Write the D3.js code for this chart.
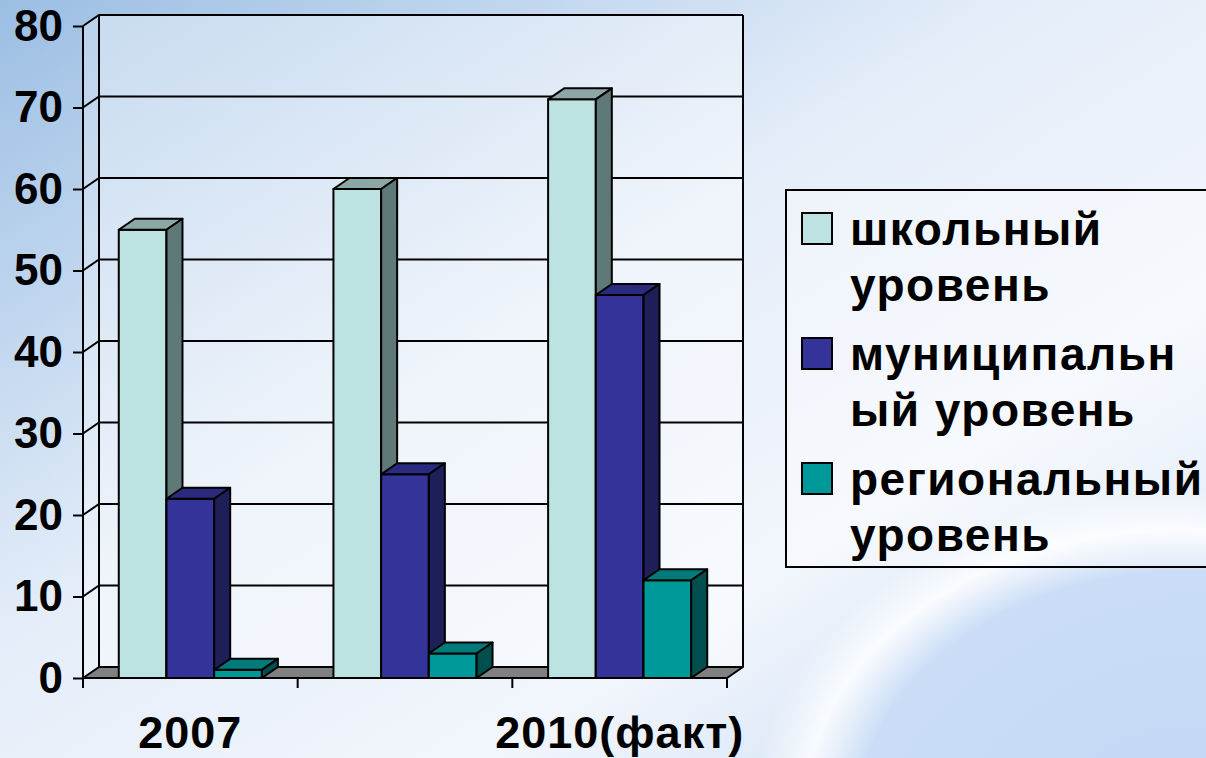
<!DOCTYPE html>
<html>
<head>
<meta charset="utf-8">
<script src="https://cdn.jsdelivr.net/npm/d3@7"></script>
<style>
  html, body { margin: 0; padding: 0; overflow: hidden; }
  #chart { width: 1206px; height: 758px; }
</style>
</head>
<body>
<div id="chart"></div>
<script>
// data
var categories = ["2007", "", "2010(факт)"];
var seriesNames = ["школьный уровень", "муниципальный уровень", "региональный уровень"];
var legendLines = [["школьный", "уровень"], ["муниципальн", "ый уровень"], ["региональный", "уровень"]];
var schoolValues = [55, 60, 71];
var municipalValues = [22, 25, 47];
var regionalValues = [1, 3, 12];
var yTicks = [0, 10, 20, 30, 40, 50, 60, 70, 80];

var seriesValues = [schoolValues, municipalValues, regionalValues];

// colours: front, top, side
var faceColors = [
  ["#BDE2E2", "#8CA8A6", "#5E7977"],
  ["#333399", "#2A2A7E", "#1E1E58"],
  ["#009999", "#007A7A", "#004F4F"]
];

const width = 1206, height = 758;
const depthX = 16, depthY = -11;   // 3d offset front -> back
const fontFam = "'Liberation Sans', Arial, sans-serif";

const svg = d3.select("#chart")
  .append("svg")
  .attr("width", width)
  .attr("height", height);

// background
const defs = svg.append("defs");
const bg = defs.append("linearGradient").attr("id", "bg")
  .attr("x1", "0").attr("y1", "0").attr("x2", "1").attr("y2", "1");
bg.append("stop").attr("offset", "0").attr("stop-color", "#9BBEE3");
bg.append("stop").attr("offset", "0.42").attr("stop-color", "#E4EDF9");
bg.append("stop").attr("offset", "0.7").attr("stop-color", "#F2F6FC");
bg.append("stop").attr("offset", "1").attr("stop-color", "#C2D8F4");

const glow = defs.append("radialGradient").attr("id", "glow")
  .attr("cx", "0.5").attr("cy", "0.5").attr("r", "0.5");
glow.append("stop").attr("offset", "0").attr("stop-color", "#C3D8F5").attr("stop-opacity", 1);
glow.append("stop").attr("offset", "0.75").attr("stop-color", "#C9DCF6").attr("stop-opacity", 0.9);
glow.append("stop").attr("offset", "0.88").attr("stop-color", "#FFFFFF").attr("stop-opacity", 0.8);
glow.append("stop").attr("offset", "1").attr("stop-color", "#FFFFFF").attr("stop-opacity", 0);

svg.append("rect").attr("width", width).attr("height", height).attr("fill", "url(#bg)");
svg.append("ellipse")
  .attr("cx", 1180).attr("cy", 820).attr("rx", 430).attr("ry", 330)
  .attr("fill", "url(#glow)");

// scales
const y = d3.scaleLinear().domain([0, 80]).range([678, 26]);
const x = d3.scaleBand().domain(categories).range([83, 727]).paddingInner(0).paddingOuter(0);
const xs = d3.scaleBand().domain(seriesNames).range([0, x.bandwidth()])
  .paddingInner(0).paddingOuter(0.75);

const x0 = x.range()[0], x1 = x.range()[1];
const y0 = y(0), yTop = y(80);

function pts(arr) { return arr.map(function (p) { return p.join(","); }).join(" "); }

// walls
svg.append("polygon")
  .attr("points", pts([[x0 + depthX, yTop + depthY], [x1 + depthX, yTop + depthY], [x1 + depthX, y0 + depthY], [x0 + depthX, y0 + depthY]]))
  .attr("fill", "#FFFFFF").attr("fill-opacity", 0.4);
svg.append("polygon")
  .attr("points", pts([[x0, yTop], [x0 + depthX, yTop + depthY], [x0 + depthX, y0 + depthY], [x0, y0]]))
  .attr("fill", "#FFFFFF").attr("fill-opacity", 0.25);

// gridlines
const grid = svg.append("g").attr("stroke", "#000").attr("stroke-width", 2).attr("fill", "none");
yTicks.forEach(function (t) {
  if (t === 0) return;
  grid.append("polyline")
    .attr("points", pts([[x0, y(t)], [x0 + depthX, y(t) + depthY], [x1 + depthX, y(t) + depthY]]));
});
// wall edges
grid.append("line")
  .attr("x1", x0 + depthX).attr("y1", yTop + depthY)
  .attr("x2", x0 + depthX).attr("y2", y0 + depthY);
grid.append("line")
  .attr("x1", x1 + depthX).attr("y1", yTop + depthY)
  .attr("x2", x1 + depthX).attr("y2", y0 + depthY);

// floor
svg.append("polygon")
  .attr("points", pts([[x0, y0], [x0 + depthX, y0 + depthY], [x1 + depthX, y0 + depthY], [x1, y0]]))
  .attr("fill", "#808080").attr("stroke", "#000").attr("stroke-width", 2)
  .attr("stroke-linejoin", "round");

// y axis (front)
const yAxis = svg.append("g")
  .attr("transform", `translate(${x0},0)`)
  .call(d3.axisLeft(y).tickValues(yTicks).tickSize(10).tickPadding(10).tickFormat(d3.format("d")));
yAxis.select(".domain").attr("stroke", "#000").attr("stroke-width", 2)
  .attr("d", `M0,${yTop}V${y0 + 10}`);
yAxis.selectAll(".tick line").attr("stroke", "#000").attr("stroke-width", 2);
yAxis.selectAll("text")
  .attr("fill", "#000")
  .style("font-family", fontFam)
  .style("font-weight", "bold")
  .style("font-size", "44px");

// x axis (front)
const xAxis = svg.append("g")
  .attr("transform", `translate(0,${y0})`)
  .call(d3.axisBottom(x).tickSize(0).tickPadding(38));
xAxis.select(".domain").attr("stroke", "#000").attr("stroke-width", 2)
  .attr("d", `M${x0},0H${x1}`);
xAxis.selectAll("text")
  .attr("fill", "#000")
  .style("font-family", fontFam)
  .style("font-weight", "bold")
  .style("font-size", "45px")
  .style("letter-spacing", "1px");
// category separators
xAxis.selectAll(".sep")
  .data(categories)
  .enter()
  .append("line")
  .attr("x1", function (d) { return x(d) + x.bandwidth(); })
  .attr("x2", function (d) { return x(d) + x.bandwidth(); })
  .attr("y1", 0).attr("y2", 10)
  .attr("stroke", "#000").attr("stroke-width", 2);

// bars, left to right
const bars = svg.append("g");
categories.forEach(function (cat, ci) {
  seriesNames.forEach(function (s, si) {
    const v = seriesValues[si][ci];
    const bx = x(cat) + xs(s), bw = xs.bandwidth();
    const by = y(v);
    const c = faceColors[si];
    const g = bars.append("g").attr("stroke", "#000").attr("stroke-width", 2).attr("stroke-linejoin", "round");
    g.append("polygon")
      .attr("points", pts([[bx, y0], [bx, by], [bx + bw, by], [bx + bw, y0]]))
      .attr("fill", c[0]);
    g.append("polygon")
      .attr("points", pts([[bx, by], [bx + depthX, by + depthY], [bx + bw + depthX, by + depthY], [bx + bw, by]]))
      .attr("fill", c[1]);
    g.append("polygon")
      .attr("points", pts([[bx + bw, by], [bx + bw + depthX, by + depthY], [bx + bw + depthX, y0 + depthY], [bx + bw, y0]]))
      .attr("fill", c[2]);
  });
});

// legend
const legend = svg.append("g").attr("transform", "translate(786,190)");
legend.append("rect")
  .attr("width", 460).attr("height", 377)
  .attr("fill", "#FFFFFF").attr("fill-opacity", 0.35)
  .attr("stroke", "#000").attr("stroke-width", 2);

const items = legend.selectAll(".item")
  .data(seriesNames)
  .enter()
  .append("g")
  .attr("transform", function (d, i) { return `translate(0,${i * 125})`; });

items.append("rect")
  .attr("x", 16).attr("y", 23).attr("width", 30).attr("height", 31)
  .attr("fill", function (d, i) { return faceColors[i][0]; })
  .attr("stroke", "#000").attr("stroke-width", 2);

items.append("text")
  .attr("x", 64)
  .style("font-family", fontFam)
  .style("font-weight", "bold")
  .style("font-size", "46px")
  .style("letter-spacing", "1.5px")
  .attr("fill", "#000")
  .selectAll("tspan")
  .data(function (d, i) { return legendLines[i]; })
  .enter()
  .append("tspan")
  .attr("x", 64)
  .attr("y", function (d, j) { return 55 + j * 56; })
  .text(function (d) { return d; });
</script>
</body>
</html>
